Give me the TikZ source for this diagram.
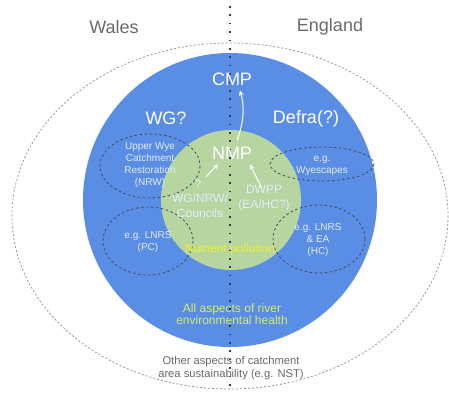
\documentclass[tikz,border=0pt]{standalone}
\usepackage{fontspec}
\setmainfont{Liberation Sans}
\usetikzlibrary{arrows.meta}
\definecolor{bluefill}{RGB}{90,141,228}
\definecolor{greenfill}{RGB}{182,213,160}
\definecolor{nutyellow}{RGB}{238,240,40}
\definecolor{allgreen}{RGB}{215,236,105}
\definecolor{graytext}{RGB}{105,105,105}
\definecolor{outerdash}{RGB}{150,150,150}
\definecolor{innerdash}{RGB}{65,75,100}
\definecolor{dotline}{RGB}{55,60,75}
\definecolor{paletext}{RGB}{228,236,250}
\tikzset{
  bigwhite/.style={text=white, font=\fontsize{18}{20}\selectfont, inner sep=0pt},
  bigwgray/.style={text=graytext, font=\fontsize{18}{20}\selectfont, inner sep=0pt},
  midwhite/.style={text=paletext, font=\fontsize{12}{15}\selectfont, inner sep=0pt, align=center},
  smallwhite/.style={text=paletext, font=\fontsize{10}{12}\selectfont, inner sep=0pt, align=center},
  subdash/.style={draw=innerdash, dash pattern=on 2.5pt off 2.5pt, line width=0.8pt},
  whitearrow/.style={draw=white, line width=1pt, -{Stealth[length=5pt,width=5pt]}},
}
\begin{document}
\begin{tikzpicture}[x=1pt,y=-1pt]
\useasboundingbox (0,0) rectangle (449,392);
% outer dashed ellipse
\draw[outerdash, dash pattern=on 2pt off 2pt, line width=0.8pt] (230,216) ellipse [x radius=218, y radius=173];
% blue circle
\fill[bluefill] (230,200) circle [radius=147];
% green circle
\fill[greenfill] (231,200) circle [radius=70];
% dashed sub ellipses
\draw[subdash] (150,166) ellipse [x radius=50, y radius=32];
\draw[subdash] (148,241) ellipse [x radius=45, y radius=34];
\draw[subdash] (322,164) ellipse [x radius=52, y radius=17];
\draw[subdash] (319,239) ellipse [x radius=46, y radius=34];
% vertical dotted line
\draw[dotline, line width=1.6pt, dash pattern=on 1.6pt off 6.8pt] (230,6) -- (230,392);
% headings
\node[bigwgray] (wales) at (114,27) {Wales};
\node[bigwgray] (england) at (330,27) {England};
\node[bigwhite] (cmp) at (232,79) {CMP};
\node[bigwhite] (wg) at (166,118) {WG?};
\node[bigwhite] (defra) at (306,119) {Defra(?)};
\node[bigwhite] (nmp) at (232,153) {NMP};
% mid texts
\node[midwhite] (q) at (198,184) {?};
\node[midwhite] (wgnrw) at (200,205.5) {WG/NRW/\\Councils};
\node[midwhite] (dwpp) at (264,198.5) {DWPP\\(EA/HC?)};
\node[text=nutyellow, font=\fontsize{12}{14}\selectfont, inner sep=0pt] (nut) at (230,249) {Nutrient pollution};
% ellipse texts
\node[smallwhite] (upw) at (150,165) {Upper Wye\\Catchment\\Restoration\\(NRW)};
\node[smallwhite] (lnrspc) at (148,242.5) {e.g. LNRS\\(PC)};
\node[smallwhite] (wyes) at (322,166) {e.g.\\Wyescapes};
\node[smallwhite] (lnrsea) at (318,240) {e.g. LNRS\\\& EA\\(HC)};
% bottom texts
\node[text=allgreen, font=\fontsize{12}{12.5}\selectfont, inner sep=0pt, align=center] (allasp) at (232,314) {All aspects of river\\environmental health};
\node[text=graytext, font=\fontsize{11.2}{13}\selectfont, inner sep=0pt, align=center] (other) at (231,368.5) {Other aspects of catchment\\area sustainability (e.g. NST)};
% arrows
\draw[whitearrow] ([xshift=5pt,yshift=6pt]nmp.north) .. controls +(8,-22) and +(4,14) .. ([xshift=8pt,yshift=-5pt]cmp.south);
\draw[whitearrow] ([xshift=8pt,yshift=3pt]q.north) -- ([xshift=-14pt,yshift=-5pt]nmp.south);
\draw[whitearrow] ([xshift=-2pt,yshift=-3pt]dwpp.north) -- ([xshift=18pt,yshift=-5pt]nmp.south);
\end{tikzpicture}
\end{document}
